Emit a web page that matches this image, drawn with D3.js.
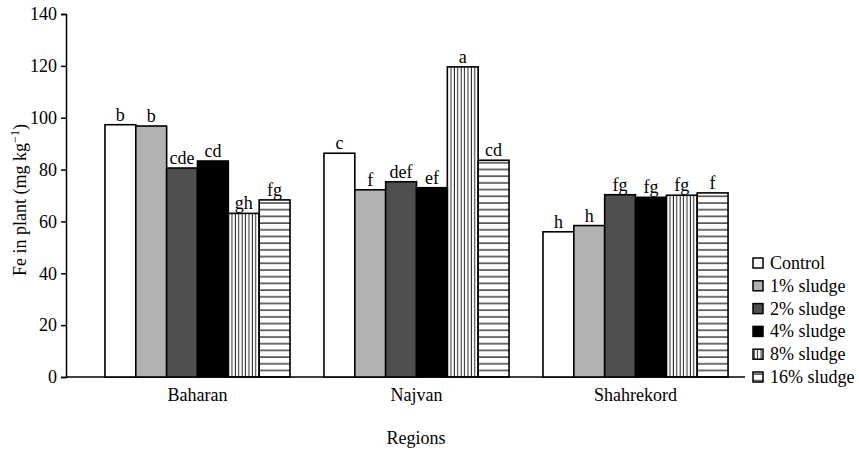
<!DOCTYPE html>
<html>
<head>
<meta charset="utf-8">
<script src="https://cdn.jsdelivr.net/npm/d3@7"></script>
<style>
  body { margin: 0; background: #fff; }
</style>
</head>
<body>
<div id="chart"></div>
<script>
// Data
var regions   = ['Baharan', 'Najvan', 'Shahrekord'];
var treatments = ['Control', '1% sludge', '2% sludge', '4% sludge', '8% sludge', '16% sludge'];
var baharan    = [97.3, 96.8, 80.6, 83.3, 63.1, 68.3];
var najvan     = [86.3, 72.2, 75.3, 73.0, 119.6, 83.6];
var shahrekord = [56.0, 58.4, 70.3, 69.3, 70.1, 71.0];
var letters    = [
	['b', 'b', 'cde', 'cd', 'gh', 'fg'],
	['c', 'f', 'def', 'ef', 'a', 'cd'],
	['h', 'h', 'fg', 'fg', 'fg', 'f']
];
var yTicks     = [0, 20, 40, 60, 80, 100, 120, 140];
var values     = [baharan, najvan, shahrekord];

var chart_width  = 859;
var chart_height = 457;
var serif = 'Liberation Serif';

var svg = d3.select('#chart')
	.append('svg')
	.attr('width', chart_width)
	.attr('height', chart_height)
	.attr('font-family', serif);

// patterns for 8% and 16%
var defs = svg.append('defs');
defs.append('pattern')
	.attr('id', 'vstripe')
	.attr('patternUnits', 'userSpaceOnUse')
	.attr('width', 3.4).attr('height', 10)
	.append('line')
	.attr('x1', 1.2).attr('x2', 1.2).attr('y1', 0).attr('y2', 10)
	.attr('stroke', '#222').attr('stroke-width', 1);
defs.append('pattern')
	.attr('id', 'hstripe')
	.attr('patternUnits', 'userSpaceOnUse')
	.attr('width', 10).attr('height', 6.7)
	.append('line')
	.attr('x1', 0).attr('x2', 10).attr('y1', 2).attr('y2', 2)
	.attr('stroke', '#222').attr('stroke-width', 1.3);

var fills = ['#fff', '#b2b2b2', '#4f4f4f', '#000', 'url(#vstripe)', 'url(#hstripe)'];

var x0 = d3.scaleBand()
	.domain(regions)
	.range([71, 762])
	.padding(0.155);

var x1 = d3.scaleBand()
	.domain(treatments)
	.range([0, x0.bandwidth()]);

var y = d3.scaleLinear()
	.domain([0, 140])
	.range([377, 14]);

// y axis
var yAxis = svg.append('g')
	.attr('transform', 'translate(66,0)')
	.call(d3.axisLeft(y).tickValues(yTicks).tickSize(5).tickPadding(4));
yAxis.attr('font-family', serif).attr('font-size', 18);
yAxis.select('.domain').attr('stroke', '#000').attr('stroke-width', 1.5);
yAxis.selectAll('.tick line').attr('stroke', '#000').attr('stroke-width', 1.5);
yAxis.selectAll('.tick text').attr('fill', '#000');

// x axis line
svg.append('line')
	.attr('x1', 66).attr('x2', 745)
	.attr('y1', y(0)).attr('y2', y(0))
	.attr('stroke', '#000').attr('stroke-width', 1.5);

// bars
var groups = svg.selectAll('g.region')
	.data(regions)
	.enter()
	.append('g')
	.attr('class', 'region')
	.attr('transform', (d) => 'translate(' + x0(d) + ',0)');

groups.selectAll('rect')
	.data((d, i) => values[i].map((v, j) => ({t: treatments[j], v: v, j: j})))
	.enter()
	.append('rect')
	.attr('x', (d) => x1(d.t))
	.attr('y', (d) => y(d.v))
	.attr('width', x1.bandwidth())
	.attr('height', (d) => y(0) - y(d.v))
	.attr('fill', (d) => fills[d.j])
	.attr('stroke', '#000')
	.attr('stroke-width', 1.6);

groups.selectAll('text.sig')
	.data((d, i) => values[i].map((v, j) => ({t: treatments[j], v: v, l: letters[i][j]})))
	.enter()
	.append('text')
	.attr('class', 'sig')
	.attr('x', (d) => x1(d.t) + x1.bandwidth() / 2)
	.attr('y', (d) => y(d.v) - 4)
	.attr('text-anchor', 'middle')
	.attr('font-size', 18)
	.text((d) => d.l);

// region labels
svg.selectAll('text.region-label')
	.data(regions)
	.enter()
	.append('text')
	.attr('class', 'region-label')
	.attr('x', (d) => x0(d) + x0.bandwidth() / 2)
	.attr('y', 401)
	.attr('text-anchor', 'middle')
	.attr('font-size', 18)
	.text((d) => d);

svg.append('text')
	.attr('x', 416)
	.attr('y', 444)
	.attr('text-anchor', 'middle')
	.attr('font-size', 18)
	.text('Regions');

// y label
var ylab = svg.append('text')
	.attr('transform', 'translate(26,200) rotate(-90)')
	.attr('text-anchor', 'middle')
	.attr('font-size', 18);
ylab.append('tspan').text('Fe in plant  (mg kg');
ylab.append('tspan').attr('dy', -7).attr('font-size', 12).text('\u22121');
ylab.append('tspan').attr('dy', 7).text(')');

// legend
var legend = svg.selectAll('g.legend')
	.data(treatments)
	.enter()
	.append('g')
	.attr('class', 'legend')
	.attr('transform', (d, i) => 'translate(753,' + (258 + i * 22.8) + ')');

legend.append('rect')
	.attr('width', 10).attr('height', 10)
	.attr('fill', (d, i) => fills[i])
	.attr('stroke', '#000')
	.attr('stroke-width', 1.5);

legend.append('text')
	.attr('x', 17)
	.attr('y', 11)
	.attr('font-size', 18)
	.text((d) => d);
</script>
</body>
</html>
